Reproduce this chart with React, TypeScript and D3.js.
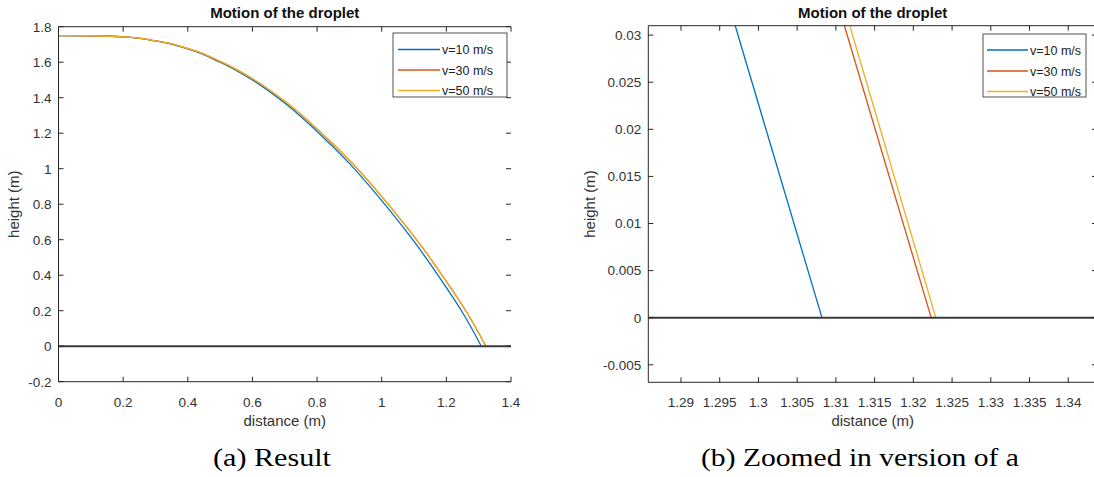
import React from 'react';
import * as d3 from 'd3';

// ---------- data ----------
const seriesNames = ['v=10 m/s', 'v=30 m/s', 'v=50 m/s'];
const seriesColors = ['#0072BD', '#D95319', '#EDB120'];

// panel (a): full trajectory
const fullY = [1.75, 1.749, 1.743, 1.72, 1.675, 1.6, 1.5, 1.37, 1.21, 1.03, 0.82, 0.59, 0.33, 0.19, 0];
const fullX10 = [0, 0.1, 0.2, 0.3, 0.4, 0.5, 0.6, 0.7, 0.8, 0.9, 1.0, 1.1, 1.2, 1.25, 1.3082];
const fullX30 = [0, 0.101, 0.202, 0.303, 0.404, 0.505, 0.606, 0.707, 0.808, 0.909, 1.0107, 1.1117, 1.2128, 1.2633, 1.3223];
const fullX50 = [0, 0.101, 0.202, 0.303, 0.4045, 0.5055, 0.6065, 0.7075, 0.809, 0.91, 1.0112, 1.1122, 1.2134, 1.2639, 1.3229];
const fullXTicks = [0, 0.2, 0.4, 0.6, 0.8, 1, 1.2, 1.4];
const fullYTicks = [-0.2, 0, 0.2, 0.4, 0.6, 0.8, 1, 1.2, 1.4, 1.6, 1.8];

// panel (b): zoomed
const zoomY = [0.031, 0];
const zoomX10 = [1.297, 1.3082];
const zoomX30 = [1.3111, 1.3223];
const zoomX50 = [1.3118, 1.3229];
const zoomXTicks = [1.29, 1.295, 1.3, 1.305, 1.31, 1.315, 1.32, 1.325, 1.33, 1.335, 1.34];
const zoomYTicks = [-0.005, 0, 0.005, 0.01, 0.015, 0.02, 0.025, 0.03];

const captions = ['(a) Result', '(b) Zoomed in version of a'];

// ---------- drawing ----------
const AX = '#262626';
const FONT = '"Liberation Sans", Arial, Helvetica, sans-serif';
const fmt = (v: number) => String(+v.toFixed(4));

type PanelProps = {
  id: string;
  xDomain: [number, number];
  xRange: [number, number];
  yDomain: [number, number];
  yRange: [number, number];
  xTicks: number[];
  yTicks: number[];
  xsList: number[][];
  ys: number[];
  legend: { x0: number; y0: number; w: number; h: number; l0: number; l1: number; tx: number; rows: number[] };
  ylabelX: number;
};

function Panel(p: PanelProps) {
  const x = d3.scaleLinear().domain(p.xDomain).range(p.xRange);
  const y = d3.scaleLinear().domain(p.yDomain).range(p.yRange);
  const [L, R] = p.xRange;
  const [B, T] = p.yRange;
  const line = d3
    .line<[number, number]>()
    .x((d) => x(d[0]))
    .y((d) => y(d[1]))
    .curve(d3.curveMonotoneY);
  const tl = 5;
  const cx = (L + R) / 2;
  return (
    <g>
      <defs>
        <clipPath id={p.id}>
          <rect x={L} y={T} width={R - L} height={B - T} />
        </clipPath>
      </defs>
      <g clipPath={`url(#${p.id})`}>
        {p.xsList.map((xs, i) => (
          <path
            key={i}
            d={line(xs.map((v, j) => [v, p.ys[j]] as [number, number])) || ''}
            fill="none"
            stroke={seriesColors[i]}
            strokeWidth={1.3}
          />
        ))}
        <line x1={L} x2={R} y1={y(0)} y2={y(0)} stroke="#3a3a3a" strokeWidth={2} />
      </g>
      {/* axes box */}
      <line x1={L} x2={R} y1={B} y2={B} stroke={AX} strokeWidth={1} />
      <line x1={L} x2={R} y1={T} y2={T} stroke={AX} strokeWidth={1} />
      <line x1={L} x2={L} y1={T} y2={B} stroke={AX} strokeWidth={1} />
      {p.xTicks.map((t) => (
        <g key={'x' + t}>
          <line x1={x(t)} x2={x(t)} y1={B} y2={B - tl} stroke={AX} />
          <line x1={x(t)} x2={x(t)} y1={T} y2={T + tl} stroke={AX} />
          <text x={x(t)} y={B + 25} textAnchor="middle" fontSize={13.5} fill="#333" fontFamily={FONT}>
            {fmt(t)}
          </text>
        </g>
      ))}
      {p.yTicks.map((t) => (
        <g key={'y' + t}>
          <line x1={L} x2={L + tl} y1={y(t)} y2={y(t)} stroke={AX} />
          <line x1={R} x2={R - tl} y1={y(t)} y2={y(t)} stroke={AX} />
          <text x={L - 7} y={y(t)} dy="0.36em" textAnchor="end" fontSize={13.5} fill="#333" fontFamily={FONT}>
            {fmt(t)}
          </text>
        </g>
      ))}
      <text x={cx} y={18} textAnchor="middle" fontSize={15} fontWeight="bold" fill="#111" fontFamily={FONT}>
        Motion of the droplet
      </text>
      <text x={cx} y={426} textAnchor="middle" fontSize={15} fill="#333" fontFamily={FONT}>
        distance (m)
      </text>
      <text
        transform={`translate(${p.ylabelX},${(T + B) / 2}) rotate(-90)`}
        textAnchor="middle"
        fontSize={15}
        fill="#333"
        fontFamily={FONT}
      >
        height (m)
      </text>
      {/* legend */}
      <rect x={p.legend.x0} y={p.legend.y0} width={p.legend.w} height={p.legend.h} fill="#fff" stroke={AX} strokeWidth={0.8} />
      {seriesNames.map((n, i) => (
        <g key={n}>
          <line x1={p.legend.l0} x2={p.legend.l1} y1={p.legend.rows[i]} y2={p.legend.rows[i]} stroke={seriesColors[i]} strokeWidth={1.3} />
          <text x={p.legend.tx} y={p.legend.rows[i]} dy="0.36em" fontSize={12.5} fill="#222" fontFamily={FONT}>
            {n}
          </text>
        </g>
      ))}
    </g>
  );
}

export default function App() {
  return (
    <svg
      width={1094}
      height={477}
      viewBox="0 0 1094 477"
      style={{ position: 'absolute', left: 0, top: 0, background: '#fff' }}
    >
      <rect width={1094} height={477} fill="#fff" />
      <Panel
        id="clipA"
        xDomain={[0, 1.4]}
        xRange={[58.5, 511]}
        yDomain={[-0.2, 1.8]}
        yRange={[381.7, 26.7]}
        xTicks={fullXTicks}
        yTicks={fullYTicks}
        xsList={[fullX10, fullX30, fullX50]}
        ys={fullY}
        legend={{ x0: 393, y0: 33, w: 114, h: 64, l0: 398, l1: 440, tx: 442, rows: [49.5, 70, 90.5] }}
        ylabelX={18.5}
      />
      <Panel
        id="clipB"
        xDomain={[1.28578, 1.34371]}
        xRange={[648.3, 1097]}
        yDomain={[-0.00686, 0.031]}
        yRange={[382.3, 25.7]}
        xTicks={zoomXTicks}
        yTicks={zoomYTicks}
        xsList={[zoomX10, zoomX30, zoomX50]}
        ys={zoomY}
        legend={{ x0: 983, y0: 34, w: 103, h: 63, l0: 987, l1: 1028, tx: 1030, rows: [50, 71, 91.5] }}
        ylabelX={595}
      />
      <text x={272} y={466} textAnchor="middle" fontSize={26} textLength={118} lengthAdjust="spacingAndGlyphs" fontFamily='"Liberation Serif", "DejaVu Serif", serif' fill="#000">
        {captions[0]}
      </text>
      <text x={860} y={466} textAnchor="middle" fontSize={26} textLength={318} lengthAdjust="spacingAndGlyphs" fontFamily='"Liberation Serif", "DejaVu Serif", serif' fill="#000">
        {captions[1]}
      </text>
    </svg>
  );
}
